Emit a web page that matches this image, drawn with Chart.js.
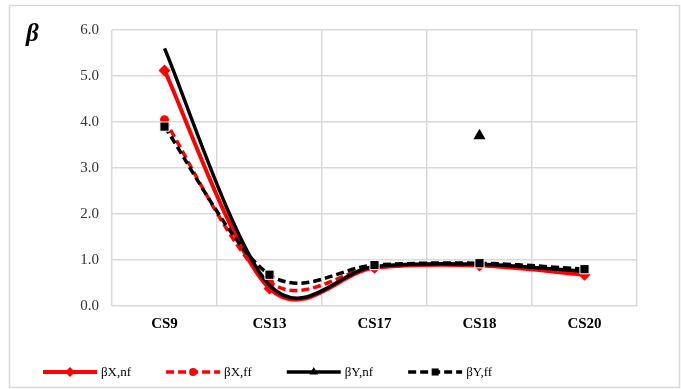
<!DOCTYPE html>
<html>
<head>
<meta charset="utf-8">
<script src="https://cdn.jsdelivr.net/npm/chart.js@4/dist/chart.umd.min.js"></script>
<style>
  html, body { margin: 0; padding: 0; background: #fff; }
  #wrap { position: relative; width: 681px; height: 389px; }
  #beta { position: absolute; left: 26px; top: 19px; font: italic bold 25px "Liberation Serif", "Times New Roman", serif; color: #000; }
</style>
</head>
<body>
<div id="wrap">
  <canvas id="c" width="681" height="389"></canvas>
  <div id="beta">β</div>
</div>
<script>
const categories = ["CS9", "CS13", "CS17", "CS18", "CS20"];
const betaXnf = [5.12, 0.38, 0.83, 0.88, 0.68];
const betaXff = [4.05, 0.52, 0.84, 0.90, 0.74];
const betaYnf = [5.60, 0.45, 0.86, 0.91, 0.75];
const betaYnfMarker = [null, null, null, 3.70, null];
const betaYff = [3.90, 0.68, 0.89, 0.93, 0.80];
const yTicks = [0, 1, 2, 3, 4, 5, 6];
const seriesNames = ["βX,nf", "βX,ff", "βY,nf", "βY,ff"];

const RED = "#ff0000", BLACK = "#000000", GRID = "#d9d9d9";

const datasets = [
  { label: seriesNames[0], data: betaXnf, borderColor: RED, backgroundColor: RED, borderWidth: 4,
    pointStyle: "rectRot", pointRadius: 6, pointBorderWidth: 0, tension: 0.4, order: 4, legend: true, legendRadius: 5 },
  { label: seriesNames[1], data: betaXff, borderColor: RED, backgroundColor: RED, borderWidth: 3.5, borderDash: [8, 4],
    pointStyle: "circle", pointRadius: 4.5, pointBorderWidth: 0, tension: 0.4, order: 3, legend: true, legendRadius: 4 },
  { label: seriesNames[2], data: betaYnf, borderColor: BLACK, backgroundColor: BLACK, borderWidth: 3.5,
    pointStyle: "triangle", pointRadius: 0, tension: 0.4, order: 2, legend: true, legendRadius: 5 },
  { label: seriesNames[3], data: betaYff, borderColor: BLACK, backgroundColor: BLACK, borderWidth: 3.5, borderDash: [8, 4],
    pointStyle: "rect", pointRadius: 6.5, pointBorderColor: "#fff", pointBorderWidth: 1, tension: 0.4, order: 0, legend: true, legendRadius: 5 },
  { label: seriesNames[2] + " marker", data: betaYnfMarker, borderColor: BLACK, backgroundColor: BLACK, showLine: false,
    pointStyle: "triangle", pointRadius: 7, pointBorderWidth: 0, order: 1, legend: false }
];

// Excel-like smoothing: Catmull-Rom style control points (1/6 of neighbour span)
const smoothPlugin = {
  id: "excelSmooth",
  beforeDatasetsDraw(chart) {
    chart.data.datasets.forEach((ds, i) => {
      if (ds.showLine === false) return;
      const meta = chart.getDatasetMeta(i);
      const line = meta.dataset;
      if (!line) return;
      line.updateControlPoints(chart.chartArea, "x");
      const pts = meta.data;
      const f = 1 / 6;
      for (let k = 0; k < pts.length; k++) {
        const p = pts[k];
        const prev = pts[k - 1] || p;
        const next = pts[k + 1] || p;
        const dx = (next.x - prev.x) * f, dy = (next.y - prev.y) * f;
        p.cp1x = p.x - dx; p.cp1y = p.y - dy;
        p.cp2x = p.x + dx; p.cp2y = p.y + dy;
      }
      line._path = undefined;
    });
  }
};

const framePlugin = {
  id: "frame",
  beforeDraw(chart) {
    const ctx = chart.ctx;
    ctx.save();
    ctx.fillStyle = "#fff";
    ctx.fillRect(0, 0, chart.width, chart.height);
    ctx.strokeStyle = GRID;
    ctx.lineWidth = 1.5;
    ctx.strokeRect(9.5, 5.5, 670, 382);
    ctx.restore();
  }
};

const legendPlugin = {
  id: "customLegend",
  afterDraw(chart) {
    const ctx = chart.ctx;
    const y = 372;
    let x = 43;
    const sampleW = 54;
    ctx.save();
    ctx.font = '13px "Liberation Serif", "Times New Roman", serif';
    ctx.textBaseline = "middle";
    ctx.textAlign = "left";
    chart.data.datasets.forEach(ds => {
      if (!ds.legend) return;
      ctx.save();
      ctx.strokeStyle = ds.borderColor;
      ctx.lineWidth = ds.borderWidth;
      ctx.setLineDash(ds.borderDash || []);
      ctx.beginPath();
      ctx.moveTo(x, y);
      ctx.lineTo(x + sampleW, y);
      ctx.stroke();
      ctx.setLineDash([]);
      ctx.fillStyle = ds.backgroundColor;
      ctx.strokeStyle = ds.backgroundColor;
      Chart.helpers.drawPoint(ctx, {
        pointStyle: ds.pointStyle,
        radius: ds.legendRadius,
        rotation: 0,
        borderWidth: 0
      }, x + sampleW / 2, y);
      ctx.restore();
      ctx.fillStyle = "#000";
      ctx.fillText(ds.label, x + sampleW + 4, y + 1);
      x += sampleW + 4 + ctx.measureText(ds.label).width + 35;
    });
    ctx.restore();
  }
};

new Chart(document.getElementById("c"), {
  type: "line",
  data: { labels: categories, datasets },
  plugins: [framePlugin, smoothPlugin, legendPlugin],
  options: {
    responsive: false,
    devicePixelRatio: 1,
    animation: false,
    layout: { padding: { left: 0, right: 44, top: 30, bottom: 57 } },
    plugins: { legend: { display: false }, tooltip: { enabled: false } },
    scales: {
      x: {
        offset: true,
        grid: { offset: true, color: GRID, lineWidth: 1.5, drawTicks: false },
        border: { display: false },
        ticks: { color: "#000", padding: 9, font: { family: '"Liberation Serif", "Times New Roman", serif', size: 15, weight: "bold" } },
        afterFit(scale) { scale.height = 26; }
      },
      y: {
        min: 0, max: 6,
        afterBuildTicks(scale) { scale.ticks = yTicks.map(v => ({ value: v })); },
        grid: { color: GRID, lineWidth: 1.5, drawTicks: false },
        border: { display: false },
        ticks: {
          color: "#333", padding: 13,
          font: { family: '"Liberation Serif", "Times New Roman", serif', size: 15 },
          callback: v => Number(v).toFixed(1)
        },
        afterFit(scale) { scale.width = 112; }
      }
    }
  }
});
</script>
</body>
</html>
